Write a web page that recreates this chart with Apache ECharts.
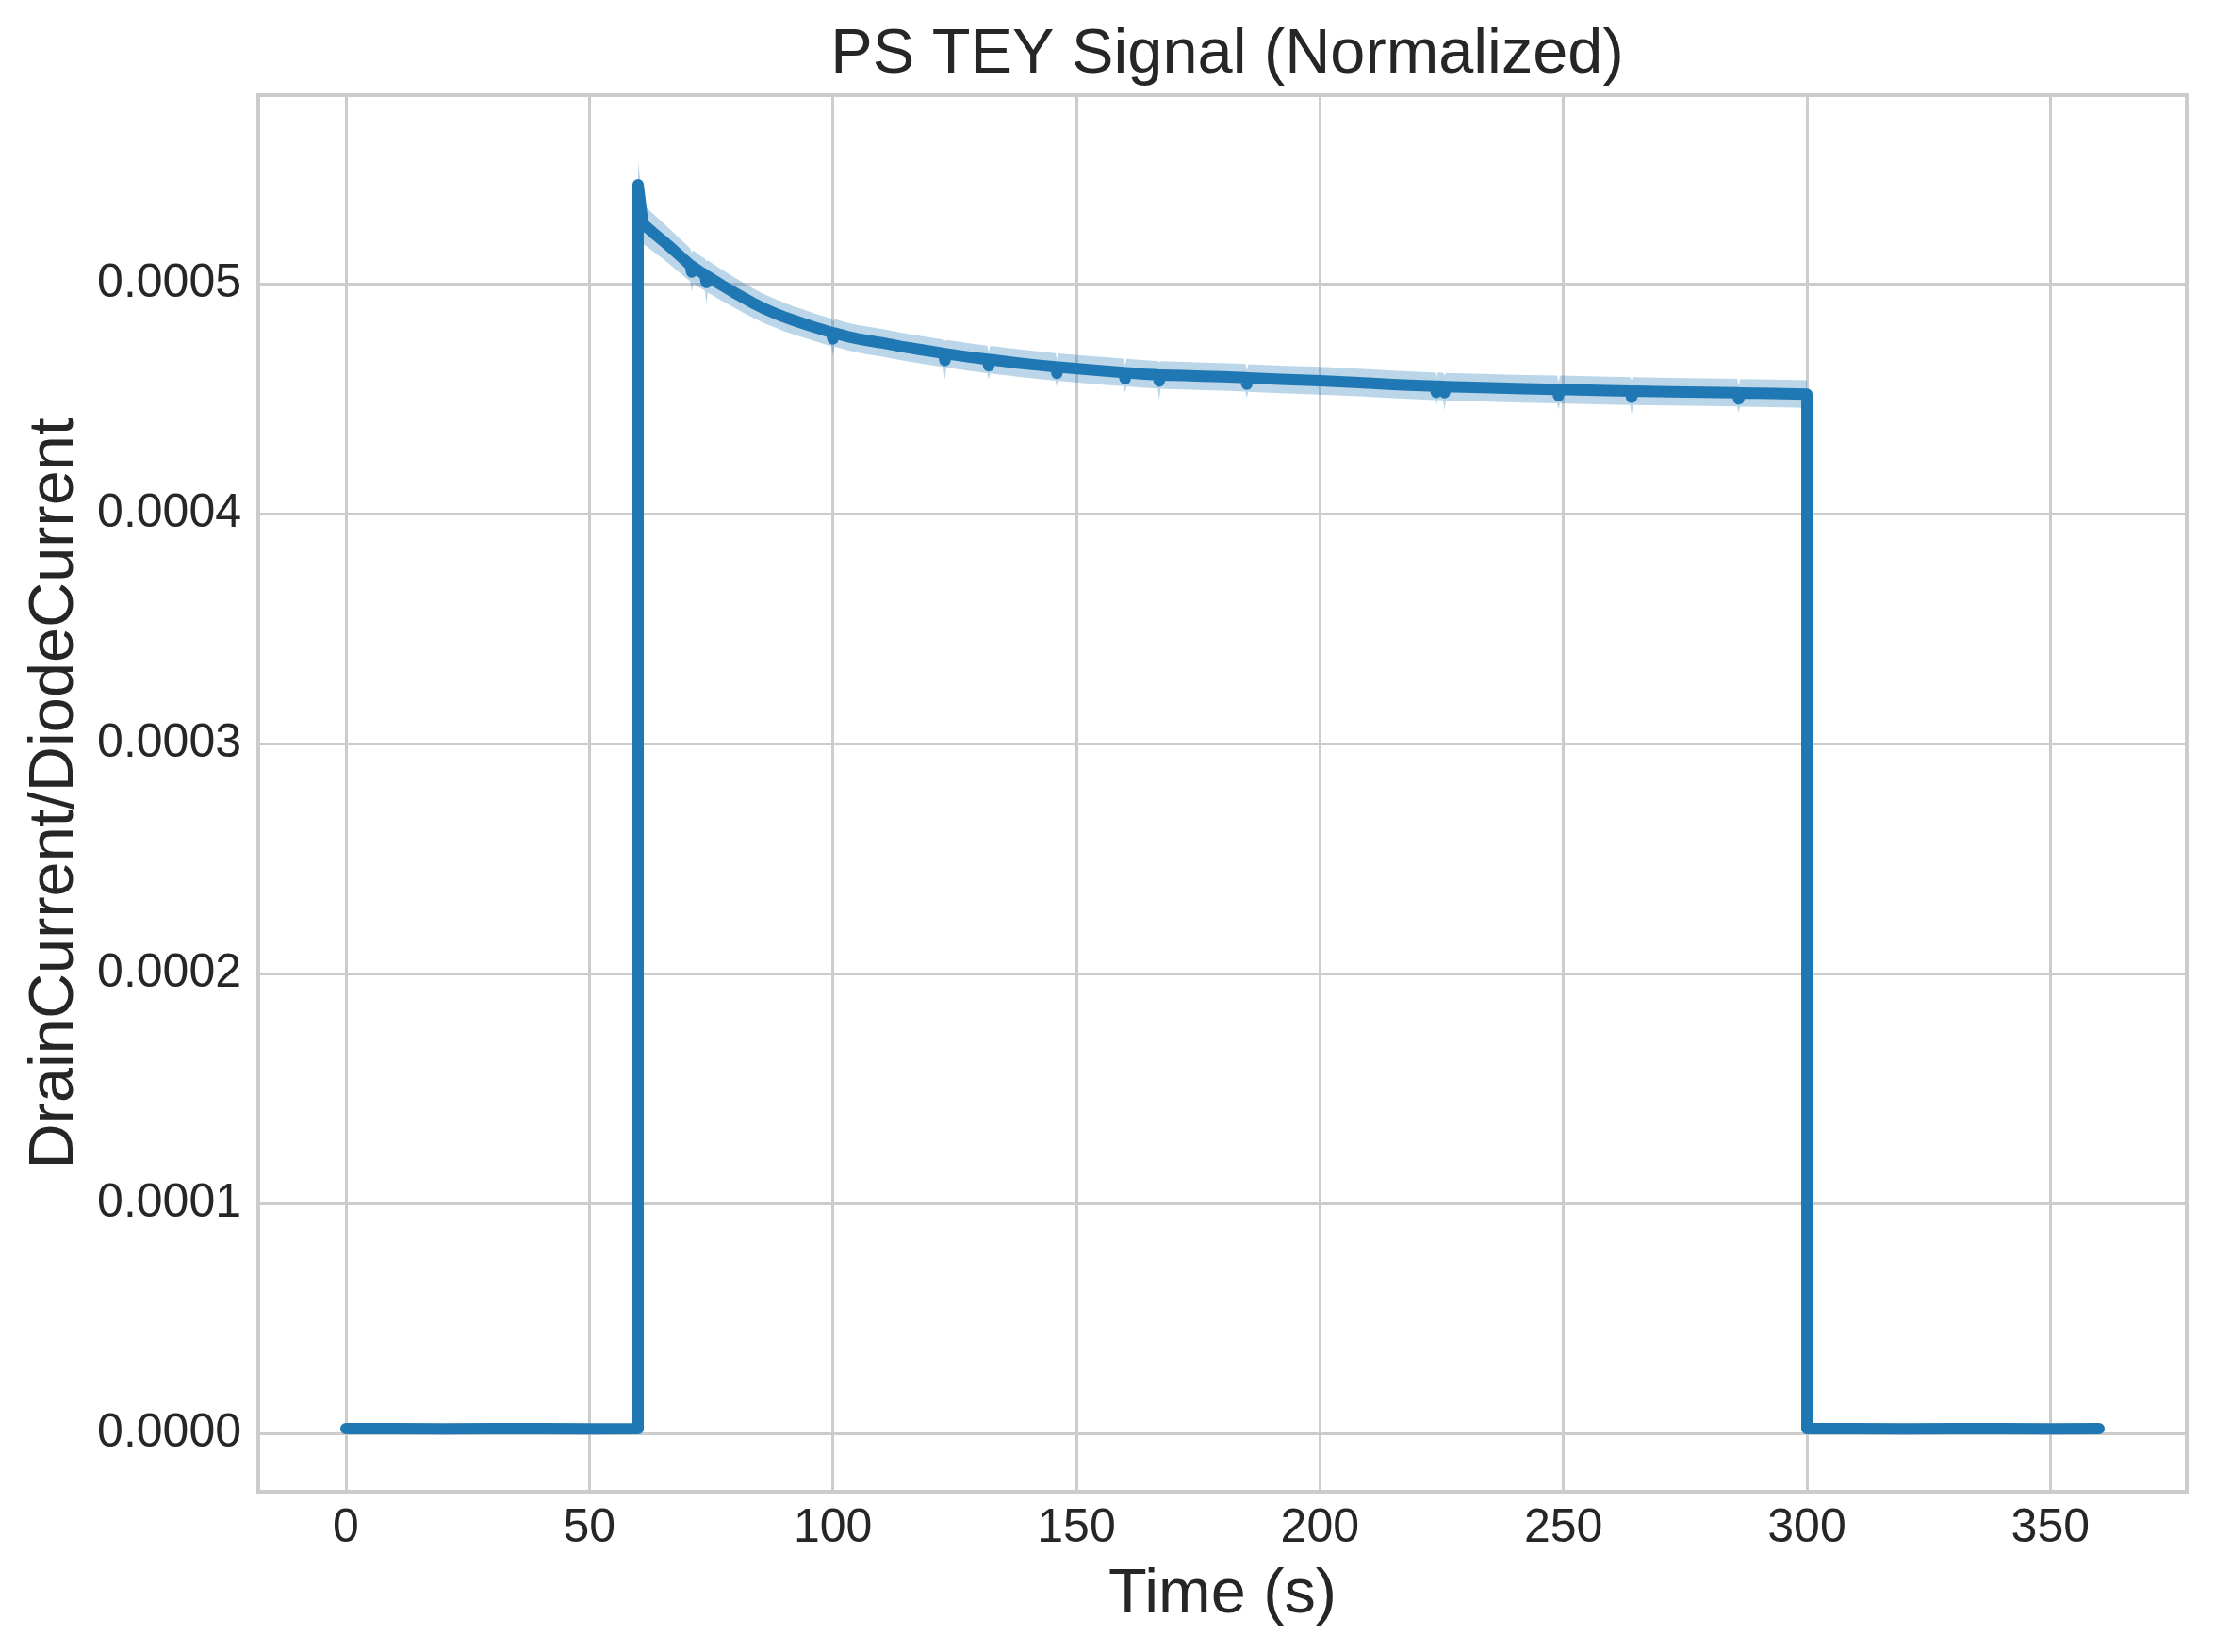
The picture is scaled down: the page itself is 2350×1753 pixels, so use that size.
<!DOCTYPE html>
<html>
<head>
<meta charset="utf-8">
<script src="https://cdn.jsdelivr.net/npm/echarts@6/dist/echarts.min.js"></script>
<style>html,body{margin:0;padding:0;background:#fff}#c{width:2350px;height:1753px}</style>
</head>
<body>
<div id="c"></div>
<script>
// Time (s)
const times = [
  0, 10, 20, 30, 40, 50, 60,
  60, 61, 63, 65, 67, 69, 70.7, 71, 71.3, 72, 73, 73.7, 74, 74.3, 75,
  77, 80, 82, 84, 86, 88, 90, 92, 94, 96, 98, 99.7, 100, 100.3, 103,
  105, 107, 110, 114, 118, 122.7, 123, 123.3, 128, 131.7, 132, 132.3, 138, 142, 145.7,
  146, 146.3, 152, 156, 159.7, 160, 160.3, 164, 166.7, 167, 167.3, 172, 176, 180, 184.7,
  185, 185.3, 192, 200, 208, 216, 223.6, 223.9, 224.2, 225.3, 225.6, 225.9, 235, 242, 248.7,
  249, 249.3, 257, 263.7, 264, 264.3, 272, 279, 285.7, 286, 286.3, 293, 300,
  300, 310, 320, 330, 340, 350, 360
];
// DrainCurrent/DiodeCurrent (mean)
const signal = [
  0.0000023, 0.0000023, 0.0000022, 0.0000023, 0.0000023, 0.0000022, 0.0000023,
  0.000543, 0.000526, 0.0005223, 0.0005188, 0.0005151, 0.0005113, 0.0005081, 0.000505, 0.0005073, 0.0005062, 0.0005048, 0.0005039, 0.0005005, 0.0005031, 0.0005022,
  0.0004995, 0.0004958, 0.0004934, 0.0004911, 0.000489, 0.0004872, 0.0004855, 0.000484, 0.0004826, 0.0004812, 0.0004799, 0.0004788, 0.000476, 0.0004786, 0.000477,
  0.0004761, 0.0004753, 0.0004743, 0.0004727, 0.0004713, 0.0004697, 0.0004666, 0.0004695, 0.0004681, 0.0004671, 0.0004643, 0.000467, 0.0004655, 0.0004646, 0.0004638,
  0.000461, 0.0004637, 0.0004627, 0.000462, 0.0004614, 0.0004586, 0.0004613, 0.0004607, 0.0004604, 0.0004576, 0.0004603, 0.00046, 0.0004597, 0.0004595, 0.0004591,
  0.0004563, 0.000459, 0.0004584, 0.0004578, 0.000457, 0.0004561, 0.0004554, 0.0004527, 0.0004554, 0.0004553, 0.0004526, 0.0004552, 0.0004547, 0.0004543, 0.000454,
  0.0004513, 0.000454, 0.0004536, 0.0004533, 0.0004506, 0.0004533, 0.000453, 0.0004528, 0.0004526, 0.0004499, 0.0004525, 0.0004523, 0.000452,
  0.0000023, 0.0000023, 0.0000022, 0.0000023, 0.0000023, 0.0000022, 0.0000023
];
// half-width of the shaded band
const errs = [
  0.0000005, 0.0000005, 0.0000005, 0.0000005, 0.0000005, 0.0000005, 0.0000005,
  0.00001, 0.0000086, 0.0000082, 0.0000079, 0.0000076, 0.0000074, 0.0000072, 0.0000085, 0.0000072, 0.0000071, 0.000007, 0.000007, 0.0000092, 0.000007, 0.0000069,
  0.0000068, 0.0000066, 0.0000065, 0.0000064, 0.0000063, 0.0000062, 0.0000062, 0.0000061, 0.0000061, 0.000006, 0.000006, 0.000006, 0.0000075, 0.000006, 0.000006,
  0.000006, 0.000006, 0.000006, 0.000006, 0.000006, 0.000006, 0.0000085, 0.000006, 0.000006, 0.000006, 0.000006, 0.000006, 0.000006, 0.000006, 0.000006,
  0.000006, 0.000006, 0.000006, 0.000006, 0.000006, 0.000006, 0.000006, 0.000006, 0.000006, 0.0000082, 0.000006, 0.000006, 0.000006, 0.000006, 0.000006,
  0.000006, 0.000006, 0.000006, 0.000006, 0.000006, 0.000006, 0.000006, 0.000006, 0.000006, 0.000006, 0.0000075, 0.000006, 0.000006, 0.000006, 0.000006,
  0.000006, 0.000006, 0.000006, 0.000006, 0.0000075, 0.000006, 0.000006, 0.000006, 0.000006, 0.000006, 0.000006, 0.000006, 0.000006,
  0.0000005, 0.0000005, 0.0000005, 0.0000005, 0.0000005, 0.0000005, 0.0000005
];

const FONT = '"Liberation Sans", Arial, "DejaVu Sans", sans-serif';
const TXT = '#262626';
const GRIDC = '#cccccc';

const chart = echarts.init(document.getElementById('c'), null, {renderer: 'canvas', width: 2350, height: 1753});
const lineData = times.map((t, i) => [t, signal[i]]);

const option = {
  animation: false,
  backgroundColor: '#ffffff',
  title: {
    text: 'PS TEY Signal (Normalized)',
    left: 1297, top: 20, textAlign: 'center',
    textStyle: {fontFamily: FONT, fontSize: 66.7, fontWeight: 'normal', color: TXT}
  },
  grid: {left: 274, right: 30, top: 101, bottom: 170, show: true, borderColor: GRIDC, borderWidth: 4, backgroundColor: 'transparent'},
  xAxis: {
    type: 'value', min: -18, max: 378, splitNumber: 8,
    name: 'Time (s)', nameLocation: 'middle', nameGap: 76,
    nameTextStyle: {fontFamily: FONT, fontSize: 66.7, color: TXT},
    axisLine: {show: false}, axisTick: {show: false},
    axisLabel: {showMinLabel: false, showMaxLabel: false, fontFamily: FONT, fontSize: 50, color: TXT, margin: 14},
    splitLine: {show: true, lineStyle: {color: GRIDC, width: 3}}
  },
  yAxis: {
    type: 'value', min: -0.0000251, max: 0.0005819, splitNumber: 6,
    name: 'DrainCurrent/DiodeCurrent', nameLocation: 'middle', nameGap: 177,
    nameTextStyle: {fontFamily: FONT, fontSize: 66.7, color: TXT},
    axisLine: {show: false}, axisTick: {show: false},
    axisLabel: {showMinLabel: false, showMaxLabel: false, fontFamily: FONT, fontSize: 50, color: TXT, margin: 18,
      formatter: v => v.toFixed(4)},
    splitLine: {show: true, lineStyle: {color: GRIDC, width: 3}}
  },
  series: [
    {
      type: 'custom', coordinateSystem: 'cartesian2d', silent: true, z: 1,
      data: [[0, 0]], encode: {x: 0, y: 1},
      renderItem: (params, api) => {
        const up = times.map((t, i) => api.coord([t, signal[i] + errs[i]]));
        const lo = times.map((t, i) => api.coord([t, signal[i] - errs[i]])).reverse();
        return {type: 'polygon', shape: {points: up.concat(lo)}, style: {fill: 'rgba(31,119,180,0.3)', stroke: null}};
      }
    },
    {
      type: 'line', data: lineData, z: 3, showSymbol: false, symbol: 'none', silent: true,
      lineStyle: {color: '#1f77b4', width: 12, cap: 'round', join: 'round'}
    }
  ]
};
chart.setOption(option);
</script>
</body>
</html>
